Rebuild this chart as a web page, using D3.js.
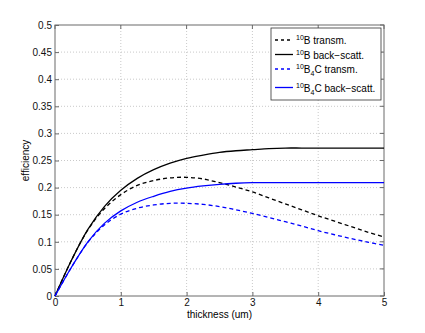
<!DOCTYPE html>
<html><head><meta charset="utf-8">
<script src="https://cdn.jsdelivr.net/npm/d3@7/dist/d3.min.js"></script>
<style>body{margin:0;background:#fff}svg{display:block}text{font-family:"Liberation Sans",Arial,sans-serif}</style>
</head><body><svg id="c" width="425" height="333"></svg>
<script>
const thickness = [0,0.25,0.5,0.75,1,1.25,1.5,1.75,2,2.25,2.5,2.75,3,3.25,3.5,3.75,4,4.25,4.5,4.75,5];
const bTransm   = [0,0.066,0.122,0.161,0.187,0.204,0.213,0.218,0.219,0.216,0.209,0.201,0.192,0.181,0.170,0.159,0.148,0.138,0.128,0.118,0.109];
const bBack     = [0,0.066,0.123,0.165,0.195,0.217,0.233,0.245,0.254,0.260,0.265,0.268,0.270,0.272,0.273,0.273,0.273,0.273,0.273,0.273,0.273];
const b4cTransm = [0,0.053,0.099,0.131,0.151,0.162,0.168,0.171,0.171,0.169,0.165,0.159,0.1525,0.145,0.137,0.129,0.1205,0.113,0.106,0.0995,0.0935];
const b4cBack   = [0,0.053,0.100,0.134,0.157,0.173,0.184,0.193,0.199,0.203,0.206,0.208,0.209,0.209,0.209,0.209,0.209,0.209,0.209,0.209,0.209];
const xTicks = [0,1,2,3,4,5];
const yTicks = [0,0.05,0.1,0.15,0.2,0.25,0.3,0.35,0.4,0.45,0.5];
const seriesNames = ["B transm.","B back\u2212scatt.","C transm.","C back\u2212scatt."];

const svg = d3.select("#c");
const L=55,R=384,T=25,B=296;
const x = d3.scaleLinear().domain([0,5]).range([L,R]);
const y = d3.scaleLinear().domain([0,0.5]).range([B,T]);
const axisCol="#6a6a6a";

// grid
const g = svg.append("g");
g.selectAll(".gx").data(xTicks.slice(1,-1)).join("line")
 .attr("x1",d=>x(d)).attr("x2",d=>x(d)).attr("y1",T).attr("y2",B)
 .attr("stroke","#bbb").attr("stroke-width",0.8).attr("stroke-dasharray","1,2");
g.selectAll(".gy").data(yTicks.slice(1,-1)).join("line")
 .attr("y1",d=>y(d)).attr("y2",d=>y(d)).attr("x1",L).attr("x2",R)
 .attr("stroke","#bbb").attr("stroke-width",0.8).attr("stroke-dasharray","1,2");

// axes
const xa = svg.append("g").attr("transform",`translate(0,${B})`)
 .call(d3.axisBottom(x).tickValues(xTicks).tickFormat(d3.format("d")).tickSizeInner(-4).tickSizeOuter(0).tickPadding(3));
const ya = svg.append("g").attr("transform",`translate(${L},0)`)
 .call(d3.axisLeft(y).tickValues(yTicks).tickFormat(d=>d===0?"0":String(+d.toFixed(2))).tickSizeInner(-4).tickSizeOuter(0).tickPadding(3));
[xa,ya].forEach(a=>{a.select(".domain").remove();a.selectAll("line").attr("stroke",axisCol);
 a.selectAll("text").attr("font-size",10).attr("fill","#111").attr("font-family","Liberation Sans,Arial,sans-serif");});
// top/right ticks
svg.append("g").selectAll("line").data(xTicks).join("line").attr("x1",d=>x(d)).attr("x2",d=>x(d)).attr("y1",T).attr("y2",T+4).attr("stroke",axisCol);
svg.append("g").selectAll("line").data(yTicks).join("line").attr("y1",d=>y(d)).attr("y2",d=>y(d)).attr("x1",R).attr("x2",R-4).attr("stroke",axisCol);
svg.append("rect").attr("x",L).attr("y",T).attr("width",R-L).attr("height",B-T).attr("fill","none").attr("stroke",axisCol).attr("stroke-width",1);

svg.append("text").attr("x",(L+R)/2).attr("y",318).attr("text-anchor","middle").attr("font-size",10).text("thickness (um)");
svg.append("text").attr("transform",`translate(29,${(T+B)/2}) rotate(-90)`).attr("text-anchor","middle").attr("font-size",10).text("efficiency");

const line = d3.line().x((d,i)=>x(thickness[i])).y(d=>y(d)).curve(d3.curveCatmullRom.alpha(0.5));
const series = [
 {v:bTransm,c:"#000",dash:"4,3"},
 {v:bBack,c:"#000",dash:null},
 {v:b4cTransm,c:"#0000ff",dash:"4,3"},
 {v:b4cBack,c:"#0000ff",dash:null}];
series.forEach(s=>{
 svg.append("path").attr("d",line(s.v)).attr("fill","none").attr("stroke",s.c).attr("stroke-width",1.3)
  .attr("stroke-dasharray",s.dash);
});

// legend
const lg = svg.append("g");
lg.append("rect").attr("x",271).attr("y",28).attr("width",110).attr("height",72).attr("fill","#fff").attr("stroke","#333").attr("stroke-width",0.8);
const ly=[40,54.5,69,87.5];
series.forEach((s,i)=>{
 lg.append("line").attr("x1",275).attr("x2",293).attr("y1",ly[i]).attr("y2",ly[i]).attr("stroke",s.c).attr("stroke-width",1.3).attr("stroke-dasharray",s.dash?"3,3":null);
 const t = lg.append("text").attr("x",296).attr("y",ly[i]+4).attr("font-size",10);
 t.append("tspan").attr("font-size",7).attr("dy",-4).text("10");
 if(i<2){
  t.append("tspan").attr("dy",4).text(seriesNames[i]);
 } else {
  t.append("tspan").attr("dy",4).text("B");
  t.append("tspan").attr("font-size",7).attr("dy",3).text("4");
  t.append("tspan").attr("dy",-3).text(seriesNames[i]);
 }
});
</script></body></html>
